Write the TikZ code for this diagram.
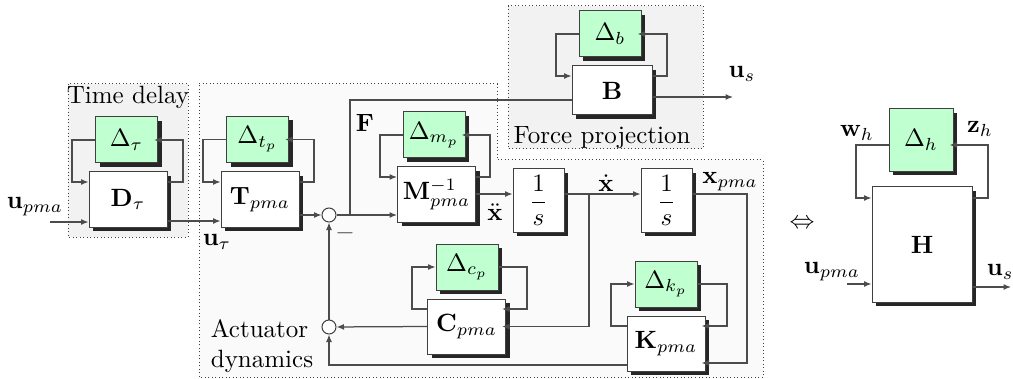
\documentclass[tikz,border=0pt]{standalone}
\usepackage{amsmath}
\usetikzlibrary{positioning, arrows.meta, shadows, calc}

\definecolor{mint}{RGB}{191,255,208}

\begin{document}
\begin{tikzpicture}[
        x=0.4pt, y=-0.4pt,
        block/.style={draw=black!75, fill=white, inner sep=0pt, minimum width=31.2pt, minimum height=22pt,
            drop shadow={shadow xshift=1.6pt, shadow yshift=-1.6pt, fill=black!85, opacity=1}},
        unc/.style={block, fill=mint, minimum width=24.8pt, minimum height=18.4pt},
        integ/.style={block, minimum width=20.4pt, minimum height=25.2pt},
        sumj/.style={circle, draw=black!75, fill=white, minimum size=5.6pt, inner sep=0pt},
        group/.style={draw=black!75, densely dotted, fill=gray!10},
        line/.style={draw=black!70, line width=0.5pt},
        arr/.style={line, -{Latex[length=3pt, width=2.4pt]}},
        arrs/.style={arr, shorten >=-1.6pt}
    ]
    \useasboundingbox (0,0) rectangle (1013,379);

    % Background groups
    \draw[group, fill=gray!4] (199,84) -- (497,84) -- (497,160) -- (763,160) -- (763,377) -- (199,377) -- cycle;
    \draw[group] (68,84) rectangle (188,237);
    \draw[group] (508,6) rectangle (703,149);

    % Define the blocks
    \node[unc] (Delt) at (126.5,140) {$\Delta_\tau$};
    \node[block] (Dt) at (128,199.5) {$\mathbf{D}_\tau$};
    \node[unc] (Deltp) at (257.5,139.5) {$\Delta_{t_p}$};
    \node[block] (Tpma) at (260,199.5) {$\mathbf{T}_{pma}$};
    \node[sumj] (sum1) at (329,215) {};
    \node[unc] (Delmp) at (434,135) {$\Delta_{m_p}$};
    \node[block] (Minv) at (436.5,194.5) {$\mathbf{M}_{pma}^{-1}$};
    \node[unc] (Delb) at (610,34) {$\Delta_b$};
    \node[block, minimum width=32pt, minimum height=19.6pt] (B) at (612,90.5) {$\mathbf{B}$};
    \node[integ] (int1) at (538.5,200.5) {$\displaystyle\frac{1}{s}$};
    \node[integ] (int2) at (666.5,200.5) {$\displaystyle\frac{1}{s}$};
    \node[unc] (Delcp) at (467,267) {$\Delta_{c_p}$};
    \node[block] (C) at (466.5,326.5) {$\mathbf{C}_{pma}$};
    \node[unc] (Delkp) at (666,284) {$\Delta_{k_p}$};
    \node[block] (K) at (666,343.5) {$\mathbf{K}_{pma}$};
    \node[sumj] (sum2) at (329,327) {};
    \node[unc, minimum width=25.6pt, minimum height=24.8pt] (Delh) at (921,140) {$\Delta_h$};
    \node[block, minimum width=40pt, minimum height=46pt] (H) at (922,244.5) {$\mathbf{H}$};

    % Labels
    \node (tdelay) at (128,97) {Time delay};
    \node (fproj) at (602,138) {Force projection};
    \node[align=left] (actdyn) at (262,346) {Actuator\\dynamics};
    \node (upma) at (35,207) {$\mathbf{u}_{pma}$};
    \node (utau) at (217,242) {$\mathbf{u}_\tau$};
    \node (Flab) at (365,123) {$\mathbf{F}$};
    \node[text=black!70] (minus) at (345,233) {$-$};
    \node (xdd) at (495,212) {$\ddot{\mathbf{x}}$};
    \node (xd) at (606,183) {$\dot{\mathbf{x}}$};
    \node (xpma) at (730,182) {$\mathbf{x}_{pma}$};
    \node (us) at (742,74) {$\mathbf{u}_s$};
    \node (equiv) at (802,224) {$\Leftrightarrow$};
    \node (wh) at (857,133) {$\mathbf{w}_h$};
    \node (zh) at (980,129) {$\mathbf{z}_h$};
    \node (upmah) at (832,272) {$\mathbf{u}_{pma}$};
    \node[anchor=west] (ush) at (978,272) {$\mathbf{u}_s$};

    \coordinate (in1) at (50,222);
    \coordinate (fork1) at (350,215);
    \coordinate (fork2) at (589,194);
    \coordinate (outB) at (733,97);
    \coordinate (inH) at (847,284);
    \coordinate (outH) at (1011,287);

    % Time delay
    \draw[arr] (in1) -- (Dt.west |- in1);
    \draw[arr] (Delt.west) -| (72,182) -- (Dt.west |- 0,182);
    \draw[arrs] (Dt.east |- 0,182) -| (183,140) -- (Delt.east);
    \draw[arr] (Dt.east |- 0,221) -- (Tpma.west |- 0,221);

    % Actuator dynamics
    \draw[arr] (Deltp.west) -| (203,182) -- (Tpma.west |- 0,182);
    \draw[arrs] (Tpma.east |- 0,182) -| (314,139.5) -- (Deltp.east);
    \draw[arr] (Tpma.east |- sum1) -- (sum1);
    \draw[arr] (sum1) -- (Minv.west |- sum1);
    \draw[line] (fork1) |- (B.west |- 0,100);
    \draw[arr] (Delmp.west) -| (380,177) -- (Minv.west |- 0,177);
    \draw[arrs] (Minv.east |- 0,177) -| (490,135) -- (Delmp.east);
    \draw[arr] (Minv.east |- 0,194) -- (int1.west |- 0,194);
    \draw[arr] (int1.east |- 0,194) -- (int2.west |- 0,194);
    \draw[arrs] (int2.east |- 0,194) -| (747,363) -- (K.east |- 0,363);
    \draw[arrs] (fork2) |- (C.east);
    \draw[arr] (C.west |- 0,309) -| (412,267) -- (Delcp.west);
    \draw[arrs] (Delcp.east) -| (527,309) -- (C.east |- 0,309);
    \draw[arr] (K.west |- 0,326) -| (611,284) -- (Delkp.west);
    \draw[arrs] (Delkp.east) -| (727,326) -- (K.east |- 0,326);
    \draw[arr] (C.west) -- (sum2);
    \draw[arr] (K.west |- 0,365) -| (sum2);
    \draw[arr] (sum2) -- (sum1);

    % Force projection
    \draw[arr] (Delb.west) -| (556,76) -- (B.west |- 0,76);
    \draw[arrs] (B.east |- 0,76) -| (667,34) -- (Delb.east);
    \draw[arr] (B.east |- outB) -- (outB);

    % Equivalent LFT
    \draw[arr] (Delh.west |- 0,145) -| (856,198) -- (H.west |- 0,198);
    \draw[arrs] (H.east |- 0,198) -| (988,145) -- (Delh.east |- 0,145);
    \draw[arr] (inH) -- (H.west |- inH);
    \draw[arr] (H.east |- outH) -- (outH);

\end{tikzpicture}
\end{document}
